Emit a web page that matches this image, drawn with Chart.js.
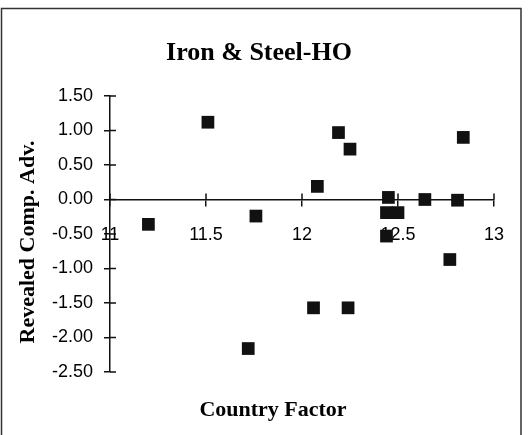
<!DOCTYPE html>
<html>
<head>
<meta charset="utf-8">
<script src="https://cdn.jsdelivr.net/npm/chart.js@4/dist/chart.umd.min.js"></script>
<style>
  body { margin: 0; background: #fff; }
  #wrap { width: 530px; height: 435px; position: relative; }
</style>
</head>
<body>
<div id="wrap"><canvas id="myChart"></canvas></div>
<script>
const chartTitle = "Iron & Steel-HO";
const xTitle = "Country Factor";
const yTitle = "Revealed Comp. Adv.";

// country factor (x) and revealed comparative advantage (y)
const countryFactor = [11.20, 11.51, 11.76, 11.72, 12.08, 12.06, 12.19, 12.25, 12.24,
                       12.45, 12.44, 12.50, 12.44, 12.64, 12.81, 12.84, 12.77];
const rca = [-0.36, 1.12, -0.24, -2.16, 0.19, -1.57, 0.97, 0.73, -1.57,
             0.03, -0.19, -0.19, -0.53, 0.00, -0.01, 0.90, -0.87];

const xMin = 11, xMax = 13, xStep = 0.5;
const yMin = -2.5, yMax = 1.5, yStep = 0.5;

const points = countryFactor.map((x, i) => ({x: x, y: rca[i]}));

const ink = "#111";
const TICK = 6;

// ticks in the original cross the axis line, chart.js only draws the outer half
const crossTicks = {
  id: "crossTicks",
  beforeDatasetsDraw(chart) {
    const c = chart.ctx;
    const xs = chart.scales.x, ys = chart.scales.y;
    const y0 = ys.getPixelForValue(0);
    const xl = xs.getPixelForValue(xMin);
    c.save();
    c.strokeStyle = ink;
    c.lineWidth = 1.5;
    c.beginPath();
    xs.ticks.forEach(t => {
      const px = xs.getPixelForValue(t.value);
      c.moveTo(px, y0);
      c.lineTo(px, y0 - TICK);
    });
    ys.ticks.forEach(t => {
      const py = ys.getPixelForValue(t.value);
      c.moveTo(xl, py);
      c.lineTo(xl + TICK, py);
    });
    c.stroke();
    c.restore();
  },
  afterDraw(chart) {
    const c = chart.ctx;
    c.save();
    // outer frame
    c.strokeStyle = "#333";
    c.lineWidth = 1.5;
    c.strokeRect(1.5, 8.5, 519.5, 440);
    c.fillStyle = "#000";
    c.textAlign = "center";
    c.textBaseline = "middle";
    c.font = "bold 26px 'Liberation Serif'";
    c.fillText(chartTitle, 259, 53);
    c.font = "bold 22px 'Liberation Serif'";
    c.fillText(xTitle, 273, 410);
    c.translate(28, 242);
    c.rotate(-Math.PI / 2);
    c.fillText(yTitle, 0, 0);
    c.restore();
  }
};

new Chart(document.getElementById("myChart"), {
  type: "scatter",
  data: {
    datasets: [{
      data: points,
      pointStyle: "rect",
      pointRadius: 9,
      pointHoverRadius: 9,
      backgroundColor: ink,
      borderColor: ink,
      borderWidth: 0
    }]
  },
  options: {
    responsive: true,
    maintainAspectRatio: false,
    animation: false,
    events: [],
    layout: {
      padding: {left: 50, right: 36, top: 96, bottom: 63}
    },
    plugins: {
      legend: {display: false},
      title: {display: false},
      tooltip: {enabled: false}
    },
    scales: {
      x: {
        type: "linear",
        position: {y: 0},
        min: xMin,
        max: xMax,
        afterFit: s => { s.height = 0; },
        border: {display: true, color: ink, width: 1.5},
        grid: {drawOnChartArea: false, color: ink, lineWidth: 1.5, tickLength: TICK},
        ticks: {
          stepSize: xStep,
          padding: 19,
          color: "#000",
          font: {family: "'Liberation Sans'", size: 18},
          callback: v => String(v)
        }
      },
      y: {
        type: "linear",
        position: "left",
        min: yMin,
        max: yMax,
        afterFit: s => { s.width = 60; },
        border: {display: true, color: ink, width: 1.5},
        grid: {drawOnChartArea: false, color: ink, lineWidth: 1.5, tickLength: TICK},
        ticks: {
          stepSize: yStep,
          padding: 11,
          color: "#000",
          font: {family: "'Liberation Sans'", size: 18},
          callback: v => v.toFixed(2)
        }
      }
    }
  },
  plugins: [crossTicks]
});
</script>
</body>
</html>
